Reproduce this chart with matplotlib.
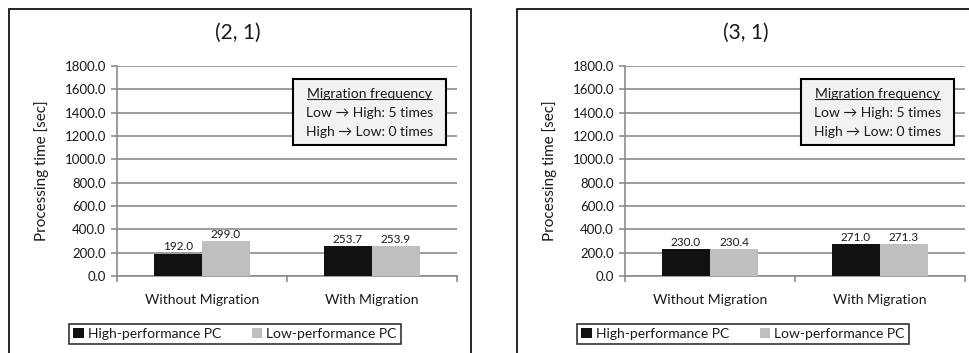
import matplotlib.pyplot as plt
from matplotlib.patches import Rectangle
from matplotlib.lines import Line2D
import numpy as np

plt.rcParams['font.family'] = ['Lato', 'DejaVu Sans']

# data
categories = ["Without Migration", "With Migration"]
series_names = ["High-performance PC", "Low-performance PC"]
titles = ["(2, 1)", "(3, 1)"]
high_21 = [192.0, 253.7]
low_21 = [299.0, 253.9]
high_31 = [230.0, 271.0]
low_31 = [230.4, 271.3]
yticks = [0, 200, 400, 600, 800, 1000, 1200, 1400, 1600, 1800]
note_lines = ["Migration frequency", "Low \u2192 High: 5 times", "High \u2192 Low: 0 times"]

W, H = 970, 353
DARK = "#111111"
LIGHT = "#bfbfbf"
GRID = "#8c8c8c"
TEXT = "#1a1a1a"

fig = plt.figure(figsize=(W / 100, H / 100), dpi=100)
underlines = []


def px(x, y):
    """pixel (from top-left) -> figure fraction"""
    return x / W, 1 - y / H


def draw_panel(frame_x, axis_x, title, high, low):
    # outer chart border
    fig.patches.append(Rectangle((frame_x / W, -0.1), 462 / W, 1.1 - 9 / H,
                                 transform=fig.transFigure, fill=False,
                                 edgecolor="black", lw=1.2, zorder=0))
    ax = fig.add_axes([axis_x / W, 1 - 276 / H, 340 / W, 210 / H])
    x = np.arange(len(categories)) + 0.5
    w = 48 / 170
    b1 = ax.bar(x - w / 2, high, w, color=DARK, zorder=3, label=series_names[0])
    b2 = ax.bar(x + w / 2, low, w, color=LIGHT, zorder=3, label=series_names[1])
    for bars in (b1, b2):
        ax.bar_label(bars, labels=[f"{v:.1f}" for v in bars.datavalues],
                     padding=1, fontsize=8.5, color=TEXT)

    ax.set_xlim(0, 2)
    ax.set_ylim(0, 1800)
    ax.set_yticks(yticks)
    ax.set_yticklabels([f"{v:.1f}" for v in yticks], fontsize=9.5, color=TEXT)
    ax.set_xticks([0, 1, 2])
    ax.set_xticklabels([])
    ax.set_xticks(x, minor=True)
    ax.set_xticklabels(categories, minor=True, fontsize=10, color=TEXT)
    ax.tick_params(axis="x", which="minor", length=0, pad=13)
    ax.tick_params(axis="x", which="major", length=4, color=GRID, width=1.2)
    ax.tick_params(axis="y", length=4, color=GRID, width=1.2, pad=4)
    ax.grid(axis="y", color=GRID, lw=1.2, zorder=0)
    for s in ("top", "right"):
        ax.spines[s].set_visible(False)
    for s in ("left", "bottom"):
        ax.spines[s].set_color(GRID)
        ax.spines[s].set_linewidth(1.2)
    ax.set_ylabel("Processing time [sec]", fontsize=11, color=TEXT, labelpad=11)

    fig.text(*px(frame_x + 229, 33), title, ha="center", va="center",
             fontsize=15, color=TEXT)

    # note box
    bx, by, bw, bh = axis_x + 176, 79, 153, 66
    fig.patches.append(Rectangle(px(bx, by + bh), bw / W, bh / H,
                                 transform=fig.transFigure, facecolor="#f2f2f2",
                                 edgecolor="black", lw=1.5, zorder=5))
    for i, line in enumerate(note_lines):
        t = fig.text(*px(bx + bw / 2, by + 15 + i * 19), line, ha="center",
                     va="center", fontsize=10, color=TEXT, zorder=6)
        if i == 0:
            underlines.append(t)

    # legend below
    leg = ax.legend(loc="center", bbox_to_anchor=px(frame_x + 226, 334),
                    bbox_transform=fig.transFigure, ncol=2, fontsize=10,
                    frameon=True, fancybox=False, edgecolor="black",
                    handlelength=0.75, handleheight=0.75, handletextpad=0.3,
                    columnspacing=2.2, borderpad=0.3, borderaxespad=0)
    leg.get_frame().set_linewidth(1.2)
    for t in leg.get_texts():
        t.set_color(TEXT)


draw_panel(9, 117, titles[0], high_21, low_21)
draw_panel(517, 625, titles[1], high_31, low_31)

# underline the note headers
fig.canvas.draw()
r = fig.canvas.get_renderer()
for t in underlines:
    bb = t.get_window_extent(r)
    y = bb.y0 + 1
    fig.lines.append(Line2D([bb.x0 / W, bb.x1 / W], [y / H, y / H],
                            transform=fig.transFigure, color=TEXT, lw=0.8,
                            zorder=7))

fig.savefig("out.png", dpi=100)
